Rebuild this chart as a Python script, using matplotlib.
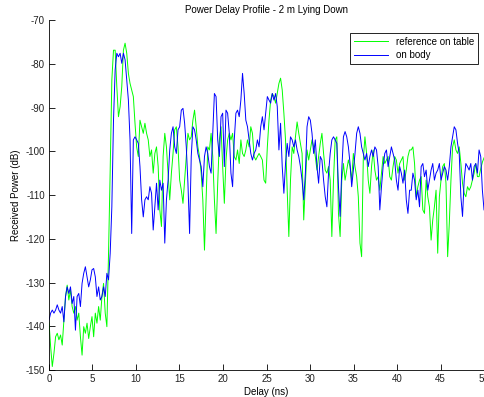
import numpy as np
import matplotlib.pyplot as plt

plt.rcParams['font.family'] = ['Liberation Sans', 'DejaVu Sans']
plt.rcParams['axes.unicode_minus'] = False

# Potencia recibida (dB), referencia sobre la mesa
p_table = [
    -139.0, -144.7, -149.2, -146.2, -142.4, -141.6, -143.1, -142.0, -144.3, -138.6,
    -133.2, -130.6, -134.0, -131.7, -135.5, -137.0, -135.5, -138.6, -137.0, -142.4,
    -146.6, -140.1, -141.6, -139.3, -142.8, -140.1, -137.8, -142.4, -137.0, -139.3,
    -135.5, -138.6, -133.2, -130.2, -137.0, -140.1, -123.3, -104.3, -83.7, -76.9,
    -76.9, -85.2, -92.1,
    -89.8, -85.2, -76.9, -75.3, -77.6, -82.2, -84.5, -86.0, -87.5, -93.6,
    -99.0, -101.2, -92.9, -94.4, -95.9, -93.6, -95.9, -97.4, -101.2, -99.7,
    -105.0, -100.5, -99.0, -103.5, -113.4, -117.2, -101.2, -95.9, -99.0, -105.0,
    -111.1, -105.0, -100.5, -95.1, -94.4, -99.0, -106.6, -108.9, -111.9, -106.6,
    -101.2, -95.9, -97.4, -96.7,
    -92.9, -90.6, -94.4, -99.0, -101.2, -105.0, -111.1, -122.6, -111.1, -99.0,
    -99.7, -95.9, -101.2, -111.1, -118.8, -107.3, -97.4, -94.4, -103.5, -111.9,
    -102.0, -97.4, -95.9, -97.4, -95.9, -101.2, -102.0, -99.7, -102.8, -97.4,
    -100.5, -101.2, -99.7, -97.4, -99.0, -94.4, -95.9, -101.2, -102.0, -101.2,
    -100.5, -101.2, -102.0, -106.6,
    -107.3, -99.0, -92.9, -88.3, -86.8, -87.5, -89.0, -86.8, -84.5, -83.3,
    -86.0, -91.3, -97.4, -108.9, -119.5, -106.6, -99.0, -100.5, -96.7, -93.3,
    -95.9, -98.2, -100.5, -115.7, -107.3, -99.7, -102.0, -99.7, -97.4, -99.0,
    -101.2, -104.3, -101.2, -98.2, -95.9, -100.5, -104.3, -105.0, -103.5, -106.6,
    -119.5, -106.6, -97.4, -96.7,
    -114.2, -119.5, -106.6, -102.8, -106.6, -104.3, -102.0, -103.5, -106.6, -100.5,
    -103.5, -105.8, -110.4, -121.0, -124.1, -102.0, -96.7, -100.5, -106.6, -109.6,
    -103.5, -99.7, -104.3, -106.6, -105.8, -108.9, -105.0, -101.2, -102.8, -102.0,
    -101.2, -105.8, -106.6, -103.5, -101.2, -102.0, -105.0, -102.8, -102.0, -101.2,
    -106.6, -104.3, -101.2, -99.7,
    -99.7, -99.0, -102.8, -110.4, -108.1, -106.6, -105.8, -113.4, -114.2, -106.6,
    -110.4, -112.7, -120.3, -115.7, -112.7, -108.9, -123.3, -110.4, -106.6, -103.5,
    -102.8, -107.3, -124.1, -116.5, -106.6, -99.0, -97.4, -99.7, -100.5, -99.0,
    -102.8, -107.3, -109.6, -110.4, -108.1, -108.9, -108.1, -106.6, -105.0, -102.8,
    -105.8, -105.8, -104.0, -102.5, -101.5,
]

# Potencia recibida (dB), sobre el cuerpo
p_body = [
    -138.6, -137.0, -136.3, -137.0, -136.3, -135.1, -136.3, -137.0, -135.5, -139.0,
    -133.2, -131.0, -132.5, -131.0, -134.8, -133.2, -140.9, -133.2, -132.5, -135.5,
    -130.2, -127.9, -126.4, -128.7, -131.0, -129.4, -127.1, -126.8, -128.7, -133.2,
    -131.0, -134.0, -133.2, -131.0, -133.2, -127.9, -129.4, -123.3, -112.7, -92.9,
    -81.4, -77.6, -78.4,
    -77.6, -79.9, -77.6, -79.1, -83.7, -88.3, -97.4, -118.8, -97.4, -96.7,
    -97.4, -98.2, -103.5, -111.1, -115.0, -111.1, -110.4, -111.1, -108.1, -109.6,
    -118.0, -112.7, -107.3, -113.4, -106.6, -108.9, -107.3, -121.0, -111.1, -106.6,
    -99.7, -95.9, -94.4, -99.0, -100.5, -95.1, -94.4, -90.6, -90.2, -93.6,
    -99.0, -107.3, -118.8, -101.2,
    -94.4, -95.1, -97.4, -100.5, -102.0, -103.5, -108.1, -101.2, -99.0, -100.5,
    -103.5, -105.0, -95.9, -86.8, -87.5, -97.4, -101.2, -92.1, -91.3, -103.5,
    -90.6, -91.3, -95.9, -105.0, -108.1, -97.4, -91.3, -90.6, -92.1, -88.3,
    -82.2, -86.8, -92.9, -94.4, -97.4, -100.5, -102.0, -100.5, -99.7, -97.4,
    -99.0, -94.4, -92.1, -95.1,
    -91.3, -87.5, -88.3, -89.0, -86.8, -88.3, -86.8, -89.8, -99.7, -93.6,
    -103.5, -109.6, -102.8, -98.2, -101.2, -96.7, -97.4, -99.0, -97.4, -99.7,
    -101.2, -103.5, -106.6, -111.1, -105.0, -94.4, -92.1, -92.9, -95.9, -100.5,
    -97.4, -103.5, -107.3, -101.2, -102.0, -106.6, -110.4, -112.7, -105.0, -100.5,
    -97.4, -96.7, -97.4, -98.2,
    -108.1, -114.9, -104.3, -96.7, -95.5, -96.7, -99.0, -102.8, -108.1, -104.3,
    -100.5, -95.9, -94.4, -95.9, -99.0, -100.5, -102.0, -100.5, -103.5, -101.2,
    -99.7, -101.2, -99.0, -99.7, -103.5, -113.4, -108.1, -103.5, -100.5, -99.7,
    -103.5, -101.2, -99.0, -100.5, -102.0, -106.6, -108.9, -103.5, -105.0, -107.3,
    -104.3, -111.1, -114.2, -108.9,
    -108.9, -105.0, -106.6, -111.1, -108.9, -112.7, -103.5, -102.8, -105.8, -104.3,
    -108.9, -106.6, -104.3, -102.8, -106.6, -105.0, -104.3, -102.8, -106.6, -105.0,
    -103.5, -104.3, -106.6, -103.5, -99.0, -96.7, -94.4, -95.1, -98.2, -100.5,
    -110.4, -114.9, -106.6, -102.8, -103.5, -104.3, -102.8, -106.6, -103.5, -102.8,
    -105.0, -99.7, -101.2, -108.9, -113.4,
]

delay = np.linspace(0, 50, len(p_table))  # ns

fig = plt.figure(figsize=(4.85, 3.97), dpi=100)
ax = fig.add_axes([0.101, 0.068, 0.897, 0.8816])

ax.plot(delay, p_table, color='#00ff00', lw=0.7, label='reference on table')
ax.plot(delay, p_body, color='#0000ff', lw=0.7, label='on body')

ax.set_xlim(0, 50)
ax.set_ylim(-150, -70)
ax.set_xticks(np.arange(0, 51, 5))
ax.set_yticks(np.arange(-150, -69, 10))
ax.tick_params(direction='in', labelsize=7, length=4, width=0.6, pad=3,
               labelcolor='#222222')
ax.spines['top'].set_visible(False)
ax.spines['right'].set_visible(False)
for s in ('left', 'bottom'):
    ax.spines[s].set_linewidth(0.6)

ax.set_title('Power Delay Profile - 2 m Lying Down', fontsize=7, pad=5)
ax.set_xlabel('Delay (ns)', fontsize=7, labelpad=2)
ax.set_ylabel('Received Power (dB)', fontsize=7, labelpad=3)

leg = ax.legend(loc='upper right', bbox_to_anchor=(0.986, 0.963), borderaxespad=0,
                fontsize=7, fancybox=False, framealpha=1, edgecolor='black',
                handlelength=3.5, borderpad=0.4, labelspacing=0.35)
leg.get_frame().set_linewidth(0.6)

plt.savefig('out.png', dpi=100)
